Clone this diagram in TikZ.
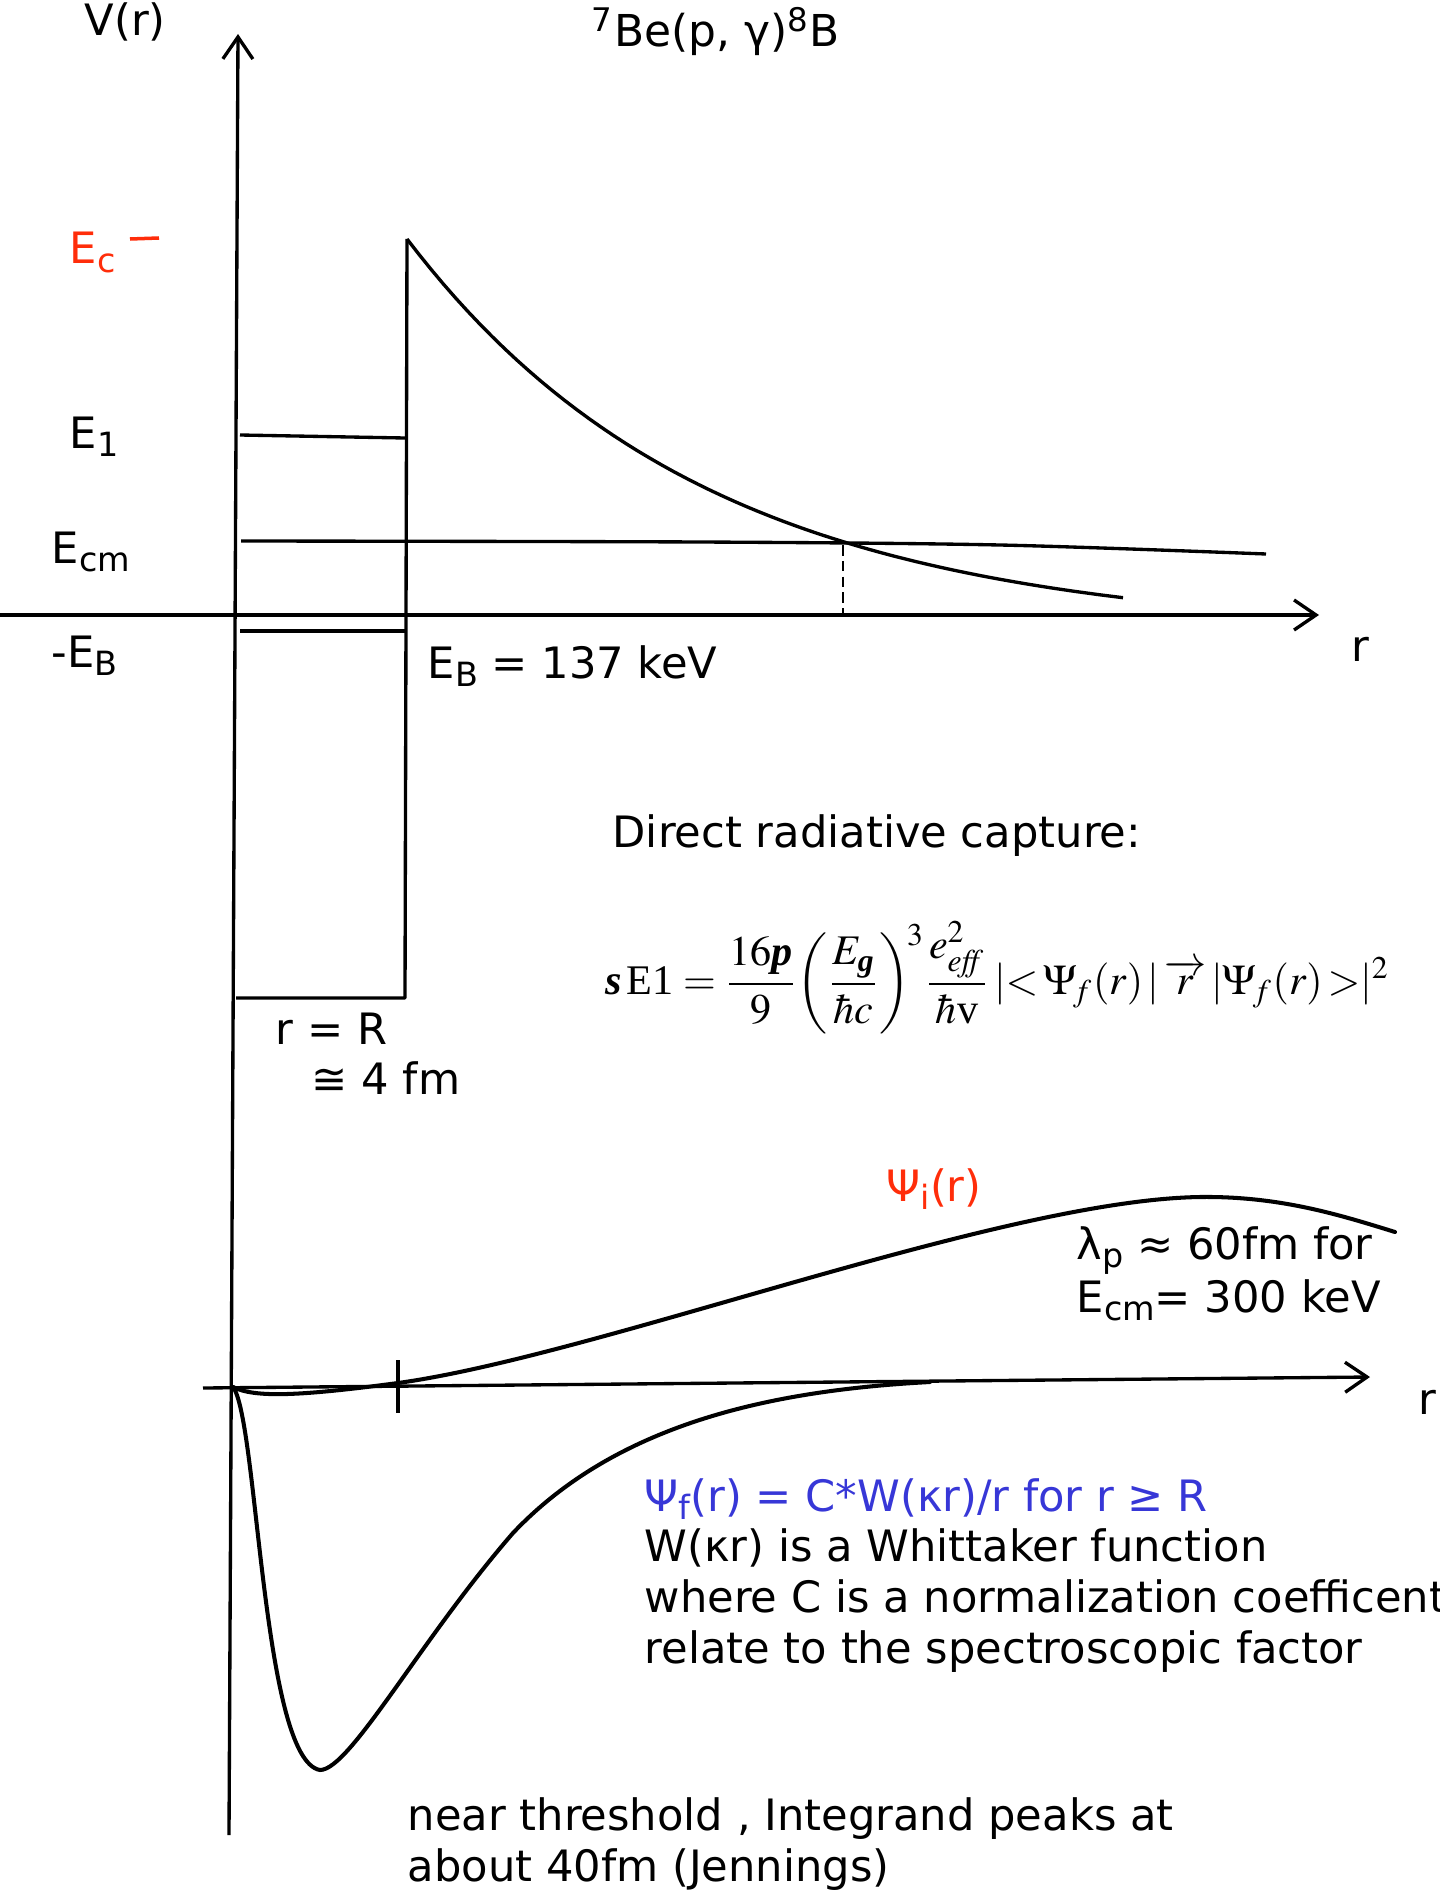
\documentclass[tikz,border=0pt]{standalone}
\usepackage{amsmath}
\usepackage{mathptmx}
\usepackage[no-math]{fontspec}
\setmainfont{DejaVu Sans}
\newfontfamily\tms{Liberation Serif}
\usepackage{tikz}
\usetikzlibrary{positioning}
\usetikzlibrary{arrows.meta}
\definecolor{ecred}{RGB}{255,45,10}
\definecolor{psiblue}{RGB}{55,55,215}
\newcommand{\lo}[1]{\raisebox{-0.35ex}{\fontsize{9.5}{10}\selectfont #1}}
\newcommand{\bi}[1]{\text{\tms\bfseries\itshape #1}}
\tikzset{lbl/.style={inner sep=0pt, anchor=base west, font=\fontsize{12.3}{14.5}\selectfont}}
\tikzset{axis/.style={line width=0.95pt}}
\tikzset{pot/.style={line width=0.95pt, line join=round}}
\tikzset{wave/.style={line width=1.15pt, line cap=round}}
\tikzset{barb/.style={-{Straight Barb[length=2.2mm,width=3mm]}}}

\begin{document}
\begin{tikzpicture}[x=0.1mm,y=-0.1mm]
\useasboundingbox (0,0) rectangle (1440,1892);
\clip (0,0) rectangle (1440,1892);
% axes
\coordinate (vbot) at (229,1835);
\coordinate (vtop) at (238,34);
\draw[axis,barb] (vbot) -- (vtop);
\coordinate (rone) at (0,615);
\coordinate (roneend) at (1319,615);
\draw[axis,barb] (rone) -- (roneend);
\coordinate (rtwo) at (203,1388);
\coordinate (rtwoend) at (1370,1377);
\draw[axis,barb] (rtwo) -- (rtwoend);
\node[lbl] (vlab) at (84,36) {V(r)};
\node[lbl,font=\fontsize{12.5}{14.5}\selectfont] (title) at (591,47) {\textsuperscript{7}Be(p, γ)\textsuperscript{8}B};
\node[lbl] (rlabone) at (1351,661) {r};
\node[lbl] (rlabtwo) at (1418,1414) {r};
% potential
\coordinate (peak) at (407,239);
\coordinate (wallbot) at (405,998);
\coordinate (wellbot) at (236,998);
\draw[pot] (wellbot) -- (wallbot) -- (peak);
\draw[pot] plot[domain=407:1123,samples=60] (\x,{239+395*(1-exp(-(\x-407)/300))});
\coordinate (eone) at (240,435);
\coordinate (eoneend) at (405,438);
\draw[pot] (eone) -- (eoneend);
\draw[pot] plot[smooth] coordinates {(241,541) (700,542) (1000,545) (1266,554)};
\coordinate (eb) at (240,631);
\coordinate (ebend) at (405,631);
\draw[pot] (eb) -- (ebend);
\coordinate (cross) at (843,545);
\coordinate (crossfoot) at (843,617);
\draw[line width=0.6pt,dash pattern=on 3pt off 1.5pt] (cross) -- (crossfoot);
\coordinate (ectick) at (130,239);
\coordinate (ectickend) at (159,238);
\draw[ecred,line width=1pt] (ectick) -- (ectickend);
\node[lbl,text=ecred] (eclab) at (69,264) {E\lo{c}};
\node[lbl] (eonelab) at (69,448) {E\lo{1}};
\node[lbl] (ecmlab) at (51,563) {E\lo{cm}};
\node[lbl] (eblab) at (51,667) {-E\lo{B}};
\node[lbl] (ebval) at (427,678) {E\lo{B} = 137 keV};
\node[lbl] (rR) at (275,1044) {r = R};
\node[lbl] (fourfm) at (311,1094) {≅ 4 fm};
% capture formula
\node[lbl] (drc) at (612,847) {Direct radiative capture:};
\node[inner sep=0pt,anchor=west,font=\fontsize{12}{15}\selectfont] (formula) at (605,978)
  {$\bi{s}\,\text{\tms E1} = \dfrac{16\bi{p}}{9}\!\left(\dfrac{E_{\bi{g}}}{\hbar c}\right)^{\!3}\!\dfrac{e^{2}_{\mathit{eff}}}{\hbar\text{\tms v}}\,|{<}\,\Psi_{\!f}(r)\,|\,\overrightarrow{r}\,|\Psi_{\!f}(r)\,{>}|^{2}$};
% wave functions
\draw[wave] (233,1387) .. controls (255,1398) and (300,1396) .. (398,1383)
  .. controls (600,1355) and (1000,1200) .. (1200,1197)
  .. controls (1280,1196) and (1340,1215) .. (1395,1232);
\draw[wave] (233,1387) .. controls (258,1420) and (262,1760) .. (320,1770)
  .. controls (350,1770) and (420,1640) .. (513,1533)
  .. controls (620,1420) and (780,1390) .. (930,1382);
\coordinate (Rtick) at (398,1360);
\coordinate (Rtickend) at (398,1413);
\draw[axis] (Rtick) -- (Rtickend);
\node[lbl,text=ecred] (psii) at (886,1201) {Ψ\lo{i}(r)};
\node[lbl] (lamp) at (1076,1259) {λ\lo{p} ≈ 60fm for};
\node[lbl] (ecmval) at (1076,1312) {E\lo{cm}= 300 keV};
\node[lbl,text=psiblue] (psif) at (644,1511) {Ψ\lo{f}(r) = C*W(κr)/r for r ≥ R};
\node[lbl] (whit) at (644,1561) {W(κr) is a Whittaker function};
\node[lbl] (norm) at (644,1612) {where C is a normalization coefficent};
\node[lbl] (spec) at (644,1663) {relate to the spectroscopic factor};
\node[lbl] (thresh) at (407,1830) {near threshold , Integrand peaks at};
\node[lbl] (jenn) at (407,1881) {about 40fm (Jennings)};
\end{tikzpicture}
\end{document}
